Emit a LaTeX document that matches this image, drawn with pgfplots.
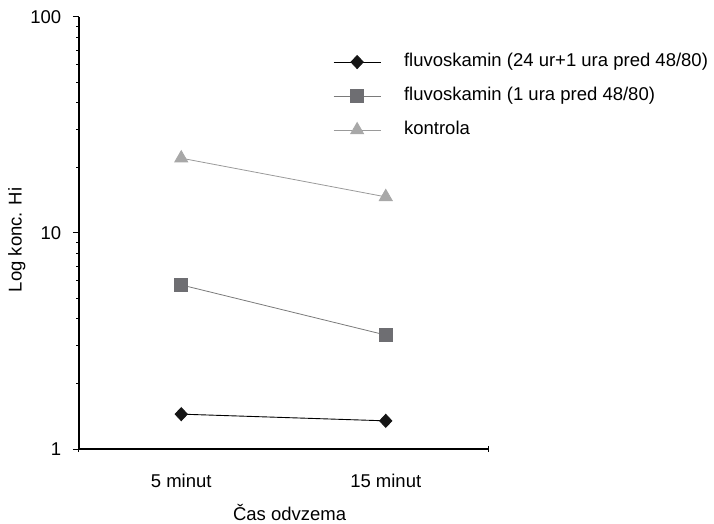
\documentclass[border=0pt]{standalone}
\usepackage{fontspec}
\setmainfont{Liberation Sans}
\usepackage{pgfplots}
\pgfplotsset{compat=1.18}
\usetikzlibrary{calc}
\definecolor{trifill}{HTML}{A8A8A8}
\definecolor{triline}{HTML}{9A9A9A}
\definecolor{sqfill}{HTML}{6E6E72}
\definecolor{sqline}{HTML}{7A7A7A}
\definecolor{dmfill}{HTML}{151515}
\begin{document}
\fontsize{18.5pt}{22pt}\selectfont
\begin{tikzpicture}[font=\fontsize{18.5pt}{22pt}\selectfont]
\begin{axis}[
  name=ax,
  scale only axis,
  width=409pt, height=432pt,
  ymode=log,
  xmin=-0.5, xmax=1.5,
  ymin=1, ymax=100,
  axis lines*=left,
  axis line style={line width=1.1pt, black},
  /pgf/number format/assume math mode=true,
  tick style={black, line width=1pt},
  xtick={-0.5,1.5},
  xticklabels={,},
  xtick align=center,
  extra x ticks={0,1},
  extra x tick labels={5 minut, 15 minut},
  extra x tick style={major tick length=0pt, xticklabel style={yshift=-18.5pt}},
  ytick={1,10,100},
  yticklabels={1,10,100},
  minor ytick={},
  ytick align=outside,
  major tick length=6pt,
  yticklabel style={xshift=-5.5pt},
  xlabel={Čas odvzema},
  xlabel style={at={(axis description cs:0.515,-0.148)}, anchor=center},
  ylabel={Log konc. Hi},
  ylabel style={at={(axis description cs:-0.152,0.484)}, anchor=center, rotate=0},
  clip=false,
  legend style={draw=none, fill=none, inner sep=0pt, at={(0.621,0.817)}, anchor=west,
    row sep=16.5pt,
    nodes={inner sep=0pt, text height=13pt, text depth=4.5pt},
    /tikz/every odd column/.append style={column sep=23pt}},
  legend cell align=left,
  legend image code/.code={
    \draw[mark repeat=2,mark phase=2,#1] plot coordinates {(0pt,0pt) (23.5pt,0pt) (47pt,0pt)};
  },
]
\addplot[black, line width=0.9pt, mark=diamond*, mark size=6.5pt, mark options={fill=dmfill, draw=dmfill, xscale=1.25, solid}]
  coordinates {(0,1.45) (1,1.35)};
\addlegendentry{fluvoskamin (24 ur+1 ura pred 48/80)}
\addplot[sqline, line width=0.8pt, mark=square*, mark size=6.5pt, mark options={fill=sqfill, draw=sqfill, solid}]
  coordinates {(0,5.75) (1,3.37)};
\addlegendentry{fluvoskamin (1 ura pred 48/80)}
\addplot[triline, line width=0.8pt, mark=triangle*, mark size=7.5pt, mark options={fill=trifill, draw=trifill, solid}]
  coordinates {(0,22.2) (1,14.7)};
\addlegendentry{kontrola}
\end{axis}
\pgfresetboundingbox
\path[use as bounding box] ($(ax.south west)+(-79pt,-75pt)$) rectangle ($(ax.north east)+(226pt,17pt)$);
\end{tikzpicture}
\end{document}
